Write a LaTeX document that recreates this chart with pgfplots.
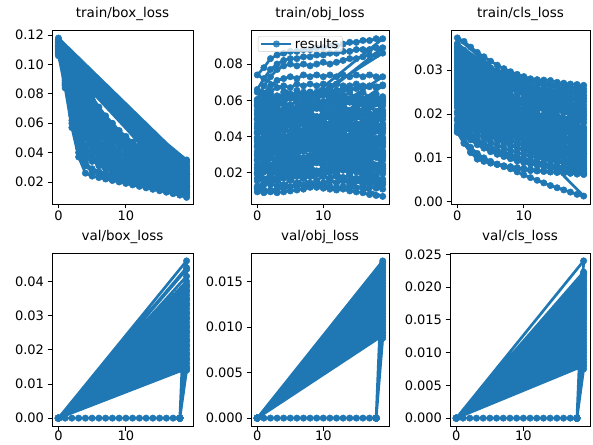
\documentclass[border=0pt]{standalone}
\usepackage{fontspec}
\setmainfont{DejaVu Sans}
\usepackage{pgfplots}
\pgfplotsset{compat=1.18}
\definecolor{tabblue}{HTML}{1F77B4}
\pgfplotsset{
  panel/.style={
    scale only axis, anchor=south west,
    xmin=-0.95, xmax=19.95, xtick={0,10},
    tick align=outside, tick pos=left, major tick length=4.5pt,
    every tick/.style={black, line width=0.8pt},
    axis line style={line width=0.8pt},
    tick label style={font=\fontsize{13}{15}\selectfont},
    xticklabel style={yshift=1.2pt},
    title style={font=\fontsize{13.5}{16}\selectfont, anchor=base, yshift=6.5pt, inner sep=0pt},
    /pgf/number format/assume math mode=true,
    scaled y ticks=false,
    yticklabel style={/pgf/number format/fixed, /pgf/number format/fixed zerofill, /pgf/number format/precision=2},
  },
  lowrow/.style={xticklabel style={yshift=1.6pt}},
  run/.style={tabblue, line width=2.7pt, line join=round, mark=*, mark size=3.2pt, mark options={solid, line width=0.5pt}},
}
\begin{document}
\begin{tikzpicture}
\path[use as bounding box] (0,0) rectangle (593pt,444pt);

% train/box_loss
\begin{axis}[panel, at={(52pt,240pt)}, width=141pt, height=174pt, title={train/box\_loss},
  ymin=0.005, ymax=0.1235, ytick={0.02,0.04,0.06,0.08,0.1,0.12}]
\addplot[run] coordinates {
(0,.107)(1,.084)(2,.057)(3,.037)(4,.026)(5,.024)(6,.023)(7,.022)(8,.021)(9,.020)(10,.019)(11,.018)(12,.017)(13,.016)(14,.015)(15,.014)(16,.013)(17,.012)(18,.011)(19,.0095)
(0,.109)(1,.088)(2,.065)(3,.046)(4,.033)(5,.029)(6,.027)(7,.026)(8,.025)(9,.024)(10,.023)(11,.022)(12,.021)(13,.020)(14,.019)(15,.018)(16,.017)(17,.016)(18,.015)(19,.012)
(0,.106)(1,.087)(2,.066)(3,.050)(4,.041)(5,.036)(6,.033)(7,.031)(8,.029)(9,.027)(10,.025)(11,.024)(12,.023)(13,.022)(14,.021)(15,.020)(16,.019)(17,.018)(18,.017)(19,.016)
(0,.108)(1,.086)(2,.060)(3,.040)(4,.036)(5,.034)(6,.032)(7,.030)(8,.028)(9,.026)(10,.025)(11,.024)(12,.022)(13,.021)(14,.020)(15,.019)(16,.018)(17,.017)(18,.016)(19,.015)
(0,.108)(1,.091)(2,.072)(3,.056)(4,.044)(5,.037)(6,.033)(7,.030)(8,.028)(9,.026)(10,.024)(11,.022)(12,.021)(13,.020)(14,.019)(15,.018)(16,.017)(17,.016)(18,.015)(19,.014)
(0,.110)(1,.090)(2,.068)(3,.050)(4,.040)(5,.035)(6,.031)(7,.029)(8,.027)(9,.025)(10,.024)(11,.023)(12,.022)(13,.021)(14,.020)(15,.019)(16,.018)(17,.017)(18,.016)(19,.013)
(0,.111)(1,.093)(2,.074)(3,.057)(4,.045)(5,.038)(6,.034)(7,.031)(8,.029)(9,.028)(10,.027)(11,.026)(12,.025)(13,.024)(14,.023)(15,.022)(16,.021)(17,.020)(18,.020)(19,.019)
(0,.110)(1,.097)(2,.083)(3,.070)(4,.059)(5,.050)(6,.043)(7,.038)(8,.034)(9,.031)(10,.029)(11,.027)(12,.025)(13,.024)(14,.023)(15,.022)(16,.021)(17,.020)(18,.019)(19,.017)
(0,.112)(1,.095)(2,.078)(3,.062)(4,.050)(5,.042)(6,.037)(7,.033)(8,.031)(9,.029)(10,.027)(11,.026)(12,.025)(13,.024)(14,.023)(15,.022)(16,.021)(17,.020)(18,.019)(19,.018)
(0,.112)(1,.098)(2,.084)(3,.071)(4,.060)(5,.051)(6,.044)(7,.039)(8,.035)(9,.032)(10,.030)(11,.028)(12,.026)(13,.025)(14,.024)(15,.023)(16,.022)(17,.021)(18,.021)(19,.022)
(0,.113)(1,.099)(2,.085)(3,.072)(4,.061)(5,.052)(6,.045)(7,.040)(8,.036)(9,.033)(10,.031)(11,.029)(12,.028)(13,.027)(14,.026)(15,.025)(16,.024)(17,.023)(18,.022)(19,.021)
(0,.113)(1,.101)(2,.089)(3,.077)(4,.066)(5,.057)(6,.049)(7,.043)(8,.039)(9,.035)(10,.032)(11,.030)(12,.028)(13,.026)(14,.025)(15,.024)(16,.023)(17,.022)(18,.021)(19,.020)
(0,.114)(1,.102)(2,.090)(3,.079)(4,.069)(5,.060)(6,.053)(7,.047)(8,.043)(9,.040)(10,.037)(11,.035)(12,.033)(13,.031)(14,.030)(15,.029)(16,.028)(17,.027)(18,.026)(19,.025)
(0,.115)(1,.104)(2,.093)(3,.083)(4,.073)(5,.064)(6,.056)(7,.050)(8,.045)(9,.041)(10,.038)(11,.036)(12,.034)(13,.032)(14,.031)(15,.030)(16,.029)(17,.028)(18,.027)(19,.026)
(0,.115)(1,.105)(2,.095)(3,.085)(4,.076)(5,.068)(6,.061)(7,.055)(8,.050)(9,.046)(10,.042)(11,.039)(12,.036)(13,.034)(14,.032)(15,.031)(16,.030)(17,.029)(18,.028)(19,.027)
(0,.116)(1,.106)(2,.096)(3,.087)(4,.078)(5,.070)(6,.063)(7,.057)(8,.052)(9,.048)(10,.044)(11,.041)(12,.038)(13,.036)(14,.034)(15,.032)(16,.031)(17,.030)(18,.029)(19,.028)
(0,.116)(1,.107)(2,.098)(3,.089)(4,.080)(5,.072)(6,.065)(7,.059)(8,.054)(9,.049)(10,.045)(11,.042)(12,.039)(13,.037)(14,.035)(15,.033)(16,.032)(17,.031)(18,.030)(19,.030)
(0,.117)(1,.108)(2,.099)(3,.090)(4,.082)(5,.074)(6,.067)(7,.061)(8,.056)(9,.052)(10,.048)(11,.045)(12,.042)(13,.040)(14,.038)(15,.036)(16,.034)(17,.033)(18,.032)(19,.031)
(0,.117)(1,.109)(2,.100)(3,.092)(4,.084)(5,.076)(6,.069)(7,.063)(8,.058)(9,.053)(10,.049)(11,.046)(12,.043)(13,.040)(14,.038)(15,.036)(16,.035)(17,.034)(18,.033)(19,.033)
(0,.118)(1,.110)(2,.101)(3,.093)(4,.085)(5,.078)(6,.071)(7,.065)(8,.060)(9,.055)(10,.051)(11,.047)(12,.044)(13,.041)(14,.039)(15,.037)(16,.036)(17,.035)(18,.035)(19,.035)
(0,.107)(1,.086)(2,.062)(3,.043)(4,.031)(5,.027)(6,.025)(7,.024)(8,.023)(9,.022)(10,.021)(11,.020)(12,.019)(13,.018)(14,.017)(15,.016)(16,.015)(17,.014)(18,.013)(19,.011)
(0,.109)(1,.092)(2,.076)(3,.062)(4,.051)(5,.043)(6,.037)(7,.033)(8,.030)(9,.028)(10,.026)(11,.024)(12,.022)(13,.020)(14,.018)(15,.017)(16,.016)(17,.015)(18,.014)(19,.013)
(0,.108)(1,.089)(2,.070)(3,.053)(4,.042)(5,.036)(6,.032)(7,.029)(8,.027)(9,.025)(10,.023)(11,.022)(12,.021)(13,.020)(14,.019)(15,.018)(16,.017)(17,.016)(18,.015)(19,.0145)
(0,.110)(1,.094)(2,.079)(3,.065)(4,.054)(5,.046)(6,.040)(7,.036)(8,.033)(9,.031)(10,.029)(11,.027)(12,.025)(13,.023)(14,.021)(15,.020)(16,.019)(17,.018)(18,.017)(19,.016)
(0,.113)(1,.098)(2,.081)(3,.066)(4,.053)(5,.044)(6,.038)(7,.034)(8,.031)(9,.029)(10,.027)(11,.025)(12,.024)(13,.023)(14,.022)(15,.021)(16,.020)(17,.019)(18,.018)(19,.017)
(0,.111)(1,.096)(2,.080)(3,.066)(4,.054)(5,.045)(6,.039)(7,.035)(8,.032)(9,.030)(10,.028)(11,.027)(12,.026)(13,.025)(14,.024)(15,.023)(16,.022)(17,.021)(18,.020)(19,.019)
(0,.112)(1,.097)(2,.082)(3,.068)(4,.057)(5,.049)(6,.043)(7,.039)(8,.036)(9,.033)(10,.031)(11,.029)(12,.027)(13,.026)(14,.025)(15,.024)(16,.023)(17,.022)(18,.021)(19,.020)
(0,.113)(1,.100)(2,.087)(3,.075)(4,.064)(5,.055)(6,.047)(7,.041)(8,.037)(9,.034)(10,.032)(11,.030)(12,.029)(13,.028)(14,.027)(15,.026)(16,.025)(17,.024)(18,.023)(19,.023)
(0,.114)(1,.103)(2,.092)(3,.081)(4,.071)(5,.062)(6,.055)(7,.049)(8,.044)(9,.040)(10,.037)(11,.034)(12,.032)(13,.030)(14,.029)(15,.028)(16,.027)(17,.026)(18,.025)(19,.024)
(0,.115)(1,.103)(2,.091)(3,.080)(4,.070)(5,.062)(6,.055)(7,.049)(8,.045)(9,.041)(10,.038)(11,.035)(12,.033)(13,.031)(14,.030)(15,.029)(16,.028)(17,.027)(18,.026)(19,.025)
(0,.116)(1,.106)(2,.097)(3,.088)(4,.079)(5,.071)(6,.064)(7,.058)(8,.053)(9,.049)(10,.045)(11,.042)(12,.040)(13,.038)(14,.036)(15,.034)(16,.033)(17,.032)(18,.031)(19,.029)
(0,.117)(1,.108)(2,.100)(3,.091)(4,.083)(5,.075)(6,.068)(7,.062)(8,.057)(9,.053)(10,.050)(11,.047)(12,.044)(13,.042)(14,.040)(15,.038)(16,.036)(17,.035)(18,.034)(19,.034)
(0,.110)(1,.095)(2,.081)(3,.068)(4,.057)(5,.048)(6,.042)(7,.037)(8,.034)(9,.031)(10,.029)(11,.027)(12,.025)(13,.024)(14,.023)(15,.022)(16,.021)(17,.020)(18,.019)(19,.018)
(0,.112)(1,.100)(2,.088)(3,.076)(4,.065)(5,.056)(6,.049)(7,.044)(8,.040)(9,.037)(10,.034)(11,.032)(12,.030)(13,.028)(14,.027)(15,.026)(16,.025)(17,.024)(18,.023)(19,.022)
(0,.111)(1,.098)(2,.085)(3,.073)(4,.063)(5,.054)(6,.047)(7,.042)(8,.038)(9,.035)(10,.032)(11,.030)(12,.028)(13,.027)(14,.026)(15,.025)(16,.024)(17,.023)(18,.022)(19,.021)
(0,.114)(1,.104)(2,.094)(3,.084)(4,.075)(5,.067)(6,.060)(7,.054)(8,.049)(9,.045)(10,.041)(11,.038)(12,.035)(13,.033)(14,.031)(15,.030)(16,.029)(17,.028)(18,.027)(19,.026)
(0,.115)(1,.105)(2,.096)(3,.087)(4,.079)(5,.071)(6,.064)(7,.058)(8,.053)(9,.048)(10,.044)(11,.041)(12,.038)(13,.036)(14,.034)(15,.033)(16,.032)(17,.031)(18,.030)(19,.029)
(0,.116)(1,.107)(2,.098)(3,.090)(4,.082)(5,.074)(6,.067)(7,.061)(8,.056)(9,.051)(10,.047)(11,.044)(12,.041)(13,.039)(14,.037)(15,.035)(16,.034)(17,.033)(18,.032)(19,.031)
};
\end{axis}

% train/obj_loss
\begin{axis}[panel, at={(251pt,240pt)}, width=138pt, height=174pt, title={train/obj\_loss},
  ymin=0.0028, ymax=0.0988, ytick={0.02,0.04,0.06,0.08},
  legend style={at={(0.05,0.965)}, anchor=north west, draw=black!20, fill=white, fill opacity=0.8,
    text opacity=1, rounded corners=2pt, font=\fontsize{13}{15}\selectfont, inner xsep=2pt, inner ysep=0pt},
  legend image code/.code={\draw[mark repeat=2,mark phase=2] plot coordinates {(0pt,0pt) (15pt,0pt) (30pt,0pt)};}]
\addplot[run] coordinates {
(0,.0095)(1,.009)(2,.0095)(3,.009)(4,.0095)(5,.010)(6,.0105)(7,.011)(8,.012)(9,.012)(10,.0115)(11,.011)(12,.0105)(13,.011)(14,.010)(15,.0095)(16,.009)(17,.008)(18,.0075)(19,.007)
(0,.035)(1,.036)(2,.037)(3,.035)(4,.036)(5,.035)(6,.037)(7,.036)(8,.037)(9,.036)(10,.037)(11,.038)(12,.037)(13,.038)(14,.037)(15,.038)(16,.037)(17,.036)(18,.037)(19,.036)
(0,.074)(1,.078)(2,.083)(3,.085)(4,.086)(5,.087)(6,.087)(7,.088)(8,.088)(9,.089)(10,.089)(11,.090)(12,.090)(13,.091)(14,.092)(15,.092)(16,.093)(17,.093)(18,.094)(19,.094)
(0,.038)(1,.039)(2,.039)(3,.040)(4,.040)(5,.041)(6,.041)(7,.042)(8,.042)(9,.042)(10,.043)(11,.043)(12,.043)(13,.044)(14,.044)(15,.044)(16,.045)(17,.045)(18,.045)(19,.046)
(0,.0155)(1,.0165)(2,.0165)(3,.0175)(4,.0175)(5,.0185)(6,.0185)(7,.0195)(8,.0195)(9,.0195)(10,.0205)(11,.0205)(12,.0205)(13,.0215)(14,.0215)(15,.0215)(16,.0225)(17,.0225)(18,.0225)(19,.0235)
(0,.050)(1,.051)(2,.052)(3,.050)(4,.051)(5,.050)(6,.052)(7,.051)(8,.052)(9,.051)(10,.052)(11,.053)(12,.052)(13,.053)(14,.052)(15,.053)(16,.052)(17,.051)(18,.052)(19,.051)
(0,.011)(1,.0105)(2,.0105)(3,.011)(4,.0115)(5,.012)(6,.0125)(7,.013)(8,.013)(9,.0135)(10,.013)(11,.0125)(12,.012)(13,.0125)(14,.012)(15,.0115)(16,.0115)(17,.012)(18,.0115)(19,.011)
(0,.057)(1,.059)(2,.060)(3,.061)(4,.062)(5,.061)(6,.063)(7,.062)(8,.063)(9,.064)(10,.063)(11,.062)(12,.063)(13,.062)(14,.061)(15,.062)(16,.061)(17,.060)(18,.061)(19,.060)
(0,.023)(1,.024)(2,.024)(3,.025)(4,.025)(5,.026)(6,.026)(7,.027)(8,.027)(9,.027)(10,.028)(11,.028)(12,.028)(13,.029)(14,.029)(15,.029)(16,.030)(17,.030)(18,.030)(19,.031)
(0,.060)(1,.068)(2,.073)(3,.077)(4,.079)(5,.080)(6,.079)(7,.080)(8,.079)(9,.080)(10,.081)(11,.080)(12,.081)(13,.082)(14,.083)(15,.083)(16,.084)(17,.085)(18,.085)(19,.086)
(0,.0425)(1,.0435)(2,.0445)(3,.0425)(4,.0435)(5,.0425)(6,.0445)(7,.0435)(8,.0445)(9,.0435)(10,.0445)(11,.0455)(12,.0445)(13,.0455)(14,.0445)(15,.0455)(16,.0445)(17,.0435)(18,.0445)(19,.0435)
(0,.0125)(1,.0135)(2,.0145)(3,.0125)(4,.0135)(5,.0125)(6,.0145)(7,.0135)(8,.0145)(9,.0135)(10,.0145)(11,.0155)(12,.0145)(13,.0155)(14,.0145)(15,.0155)(16,.0145)(17,.0135)(18,.0145)(19,.0135)
(0,.053)(1,.054)(2,.054)(3,.055)(4,.055)(5,.056)(6,.056)(7,.057)(8,.057)(9,.057)(10,.058)(11,.058)(12,.058)(13,.059)(14,.059)(15,.059)(16,.060)(17,.060)(18,.060)(19,.061)
(0,.027)(1,.029)(2,.030)(3,.031)(4,.032)(5,.031)(6,.033)(7,.032)(8,.033)(9,.034)(10,.033)(11,.032)(12,.033)(13,.032)(14,.031)(15,.032)(16,.031)(17,.030)(18,.031)(19,.030)
(0,.066)(1,.072)(2,.077)(3,.080)(4,.082)(5,.083)(6,.083)(7,.084)(8,.084)(9,.085)(10,.085)(11,.086)(12,.086)(13,.087)(14,.087)(15,.088)(16,.088)(17,.088)(18,.089)(19,.089)
(0,.0345)(1,.0365)(2,.0375)(3,.0385)(4,.0395)(5,.0385)(6,.0405)(7,.0395)(8,.0405)(9,.0415)(10,.0405)(11,.0395)(12,.0405)(13,.0395)(14,.0385)(15,.0395)(16,.0385)(17,.0375)(18,.0385)(19,.0375)
(0,.0455)(1,.0465)(2,.0465)(3,.0475)(4,.0475)(5,.0485)(6,.0485)(7,.0495)(8,.0495)(9,.0495)(10,.0505)(11,.0505)(12,.0505)(13,.0515)(14,.0515)(15,.0515)(16,.0525)(17,.0525)(18,.0525)(19,.0535)
(0,.020)(1,.021)(2,.022)(3,.020)(4,.021)(5,.020)(6,.022)(7,.021)(8,.022)(9,.021)(10,.022)(11,.023)(12,.022)(13,.023)(14,.022)(15,.023)(16,.022)(17,.021)(18,.022)(19,.021)
(0,.0605)(1,.0615)(2,.0615)(3,.0625)(4,.0625)(5,.0635)(6,.0635)(7,.0645)(8,.0645)(9,.0645)(10,.0655)(11,.0655)(12,.0655)(13,.0665)(14,.0665)(15,.0665)(16,.0675)(17,.0675)(18,.0675)(19,.0685)
(0,.058)(1,.064)(2,.068)(3,.071)(4,.072)(5,.073)(6,.072)(7,.074)(8,.073)(9,.074)(10,.073)(11,.074)(12,.073)(13,.074)(14,.073)(15,.074)(16,.073)(17,.074)(18,.073)(19,.073)
(0,.0275)(1,.0285)(2,.0295)(3,.0275)(4,.0285)(5,.0275)(6,.0295)(7,.0285)(8,.0295)(9,.0285)(10,.0295)(11,.0305)(12,.0295)(13,.0305)(14,.0295)(15,.0305)(16,.0295)(17,.0285)(18,.0295)(19,.0285)
(0,.042)(1,.044)(2,.045)(3,.046)(4,.047)(5,.046)(6,.048)(7,.047)(8,.048)(9,.049)(10,.048)(11,.047)(12,.048)(13,.047)(14,.046)(15,.047)(16,.046)(17,.045)(18,.046)(19,.045)
(0,.012)(1,.014)(2,.015)(3,.016)(4,.017)(5,.016)(6,.018)(7,.017)(8,.018)(9,.019)(10,.018)(11,.017)(12,.018)(13,.017)(14,.016)(15,.017)(16,.016)(17,.015)(18,.016)(19,.015)
(0,.0575)(1,.0585)(2,.0595)(3,.0575)(4,.0585)(5,.0575)(6,.0595)(7,.0585)(8,.0595)(9,.0585)(10,.0595)(11,.0605)(12,.0595)(13,.0605)(14,.0595)(15,.0605)(16,.0595)(17,.0585)(18,.0595)(19,.0585)
(0,.0305)(1,.0315)(2,.0315)(3,.0325)(4,.0325)(5,.0335)(6,.0335)(7,.0345)(8,.0345)(9,.0345)(10,.0355)(11,.0355)(12,.0355)(13,.0365)(14,.0365)(15,.0365)(16,.0375)(17,.0375)(18,.0375)(19,.0385)
(0,.057)(1,.062)(2,.065)(3,.067)(4,.068)(5,.067)(6,.069)(7,.068)(8,.069)(9,.068)(10,.069)(11,.068)(12,.069)(13,.068)(14,.068)(15,.069)(16,.068)(17,.068)(18,.067)(19,.068)
(0,.0195)(1,.0215)(2,.0225)(3,.0235)(4,.0245)(5,.0235)(6,.0255)(7,.0245)(8,.0255)(9,.0265)(10,.0255)(11,.0245)(12,.0255)(13,.0245)(14,.0235)(15,.0245)(16,.0235)(17,.0225)(18,.0235)(19,.0225)
(0,.0495)(1,.0515)(2,.0525)(3,.0535)(4,.0545)(5,.0535)(6,.0555)(7,.0545)(8,.0555)(9,.0565)(10,.0555)(11,.0545)(12,.0555)(13,.0545)(14,.0535)(15,.0545)(16,.0535)(17,.0525)(18,.0535)(19,.0525)
(0,.0115)(1,.0155)(2,.0135)(3,.0165)(4,.0125)(5,.0165)(6,.0135)(7,.0175)(8,.0125)(9,.0155)(10,.0125)(11,.0165)(12,.0145)(13,.0175)(14,.0135)(15,.0165)(16,.0125)(17,.0155)(18,.0135)(19,.0165)
(0,.0445)(1,.0415)(2,.0435)(3,.0405)(4,.0445)(5,.0415)(6,.0455)(7,.0425)(8,.0445)(9,.0405)(10,.0435)(11,.0405)(12,.0455)(13,.0415)(14,.0445)(15,.0405)(16,.0445)(17,.0415)(18,.0435)(19,.0395)
(0,.022)(1,.026)(2,.024)(3,.027)(4,.023)(5,.027)(6,.024)(7,.028)(8,.023)(9,.026)(10,.023)(11,.027)(12,.025)(13,.028)(14,.024)(15,.027)(16,.023)(17,.026)(18,.024)(19,.027)
(0,.0595)(1,.0565)(2,.0585)(3,.0555)(4,.0595)(5,.0565)(6,.0605)(7,.0575)(8,.0595)(9,.0555)(10,.0585)(11,.0555)(12,.0605)(13,.0565)(14,.0595)(15,.0555)(16,.0595)(17,.0565)(18,.0585)(19,.0545)
(0,.032)(1,.036)(2,.034)(3,.037)(4,.033)(5,.037)(6,.034)(7,.038)(8,.033)(9,.036)(10,.033)(11,.037)(12,.035)(13,.038)(14,.034)(15,.037)(16,.033)(17,.036)(18,.034)(19,.037)
(0,.0195)(1,.0165)(2,.0185)(3,.0155)(4,.0195)(5,.0165)(6,.0205)(7,.0175)(8,.0195)(9,.0155)(10,.0185)(11,.0155)(12,.0205)(13,.0165)(14,.0195)(15,.0155)(16,.0195)(17,.0165)(18,.0185)(19,.0145)
(0,.047)(1,.051)(2,.049)(3,.052)(4,.048)(5,.052)(6,.049)(7,.053)(8,.048)(9,.051)(10,.048)(11,.052)(12,.050)(13,.053)(14,.049)(15,.052)(16,.048)(17,.051)(18,.049)(19,.052)
(0,.027)(1,.031)(2,.029)(3,.032)(4,.028)(5,.032)(6,.029)(7,.033)(8,.028)(9,.031)(10,.028)(11,.032)(12,.030)(13,.033)(14,.029)(15,.032)(16,.028)(17,.031)(18,.029)(19,.032)
(0,.0645)(1,.0615)(2,.0635)(3,.0605)(4,.0645)(5,.0615)(6,.0655)(7,.0625)(8,.0645)(9,.0605)(10,.0635)(11,.0605)(12,.0655)(13,.0615)(14,.0645)(15,.0605)(16,.0645)(17,.0615)(18,.0635)(19,.0595)
(0,.017)(1,.021)(2,.019)(3,.022)(4,.018)(5,.022)(6,.019)(7,.023)(8,.018)(9,.021)(10,.018)(11,.022)(12,.020)(13,.023)(14,.019)(15,.022)(16,.018)(17,.021)(18,.019)(19,.022)
(0,.0395)(1,.0365)(2,.0385)(3,.0355)(4,.0395)(5,.0365)(6,.0405)(7,.0375)(8,.0395)(9,.0355)(10,.0385)(11,.0355)(12,.0405)(13,.0365)(14,.0395)(15,.0355)(16,.0395)(17,.0365)(18,.0385)(19,.0345)
(0,.0545)(1,.0515)(2,.0535)(3,.0505)(4,.0545)(5,.0515)(6,.0555)(7,.0525)(8,.0545)(9,.0505)(10,.0535)(11,.0505)(12,.0555)(13,.0515)(14,.0545)(15,.0505)(16,.0545)(17,.0515)(18,.0535)(19,.0495)
(0,.0295)(1,.0265)(2,.0285)(3,.0255)(4,.0295)(5,.0265)(6,.0305)(7,.0275)(8,.0295)(9,.0255)(10,.0285)(11,.0255)(12,.0305)(13,.0265)(14,.0295)(15,.0255)(16,.0295)(17,.0265)(18,.0285)(19,.0245)
(0,.042)(1,.046)(2,.044)(3,.047)(4,.043)(5,.047)(6,.044)(7,.048)(8,.043)(9,.046)(10,.043)(11,.047)(12,.045)(13,.048)(14,.044)(15,.047)(16,.043)(17,.046)(18,.044)(19,.047)
(0,.0245)(1,.0215)(2,.0235)(3,.0205)(4,.0245)(5,.0215)(6,.0255)(7,.0225)(8,.0245)(9,.0205)(10,.0235)(11,.0205)(12,.0255)(13,.0215)(14,.0245)(15,.0205)(16,.0245)(17,.0215)(18,.0235)(19,.0195)
(0,.057)(1,.061)(2,.059)(3,.062)(4,.058)(5,.062)(6,.059)(7,.063)(8,.058)(9,.061)(10,.058)(11,.062)(12,.060)(13,.063)(14,.059)(15,.062)(16,.058)(17,.061)(18,.059)(19,.062)
(0,.0345)(1,.0315)(2,.0335)(3,.0305)(4,.0345)(5,.0315)(6,.0355)(7,.0325)(8,.0345)(9,.0305)(10,.0335)(11,.0305)(12,.0355)(13,.0315)(14,.0345)(15,.0305)(16,.0345)(17,.0315)(18,.0335)(19,.0295)
(0,.037)(1,.041)(2,.039)(3,.042)(4,.038)(5,.042)(6,.039)(7,.043)(8,.038)(9,.041)(10,.038)(11,.042)(12,.040)(13,.043)(14,.039)(15,.042)(16,.038)(17,.041)(18,.039)(19,.042)
(0,.0495)(1,.0465)(2,.0485)(3,.0455)(4,.0495)(5,.0465)(6,.0505)(7,.0475)(8,.0495)(9,.0455)(10,.0485)(11,.0455)(12,.0505)(13,.0465)(14,.0495)(15,.0455)(16,.0495)(17,.0465)(18,.0485)(19,.0445)
(0,.052)(1,.056)(2,.054)(3,.057)(4,.053)(5,.057)(6,.054)(7,.058)(8,.053)(9,.056)(10,.053)(11,.057)(12,.055)(13,.058)(14,.054)(15,.057)(16,.053)(17,.056)(18,.054)(19,.057)
};
\addlegendentry{results}
\end{axis}

% train/cls_loss
\begin{axis}[panel, at={(451pt,240pt)}, width=139pt, height=174pt, title={train/cls\_loss},
  ymin=-0.0005, ymax=0.0391, ytick={0,0.01,0.02,0.03}]
\addplot[run] coordinates {
(0,.0160)(1,.0135)(2,.0113)(3,.0097)(4,.0092)(5,.0088)(6,.0085)(7,.0082)(8,.0080)(9,.0078)(10,.0076)(11,.0074)(12,.0072)(13,.0070)(14,.0068)(15,.0067)(16,.0066)(17,.0065)(18,.0063)(19,.0062)
(0,.0325)(1,.0307)(2,.0291)(3,.0279)(4,.0270)(5,.0261)(6,.0254)(7,.0248)(8,.0242)(9,.0237)(10,.0233)(11,.0229)(12,.0225)(13,.0222)(14,.0218)(15,.0216)(16,.0213)(17,.0210)(18,.0207)(19,.0205)
(0,.0255)(1,.0236)(2,.0220)(3,.0208)(4,.0198)(5,.0189)(6,.0181)(7,.0175)(8,.0169)(9,.0164)(10,.0159)(11,.0155)(12,.0151)(13,.0148)(14,.0144)(15,.0141)(16,.0139)(17,.0135)(18,.0133)(19,.0130)
(0,.0373)(1,.0365)(2,.0352)(3,.0340)(4,.0330)(5,.0320)(6,.0311)(7,.0303)(8,.0296)(9,.0290)(10,.0285)(11,.0280)(12,.0278)(13,.0277)(14,.0276)(15,.0272)(16,.0270)(17,.0268)(18,.0267)(19,.0265)
(0,.0200)(1,.0182)(2,.0166)(3,.0154)(4,.0145)(5,.0136)(6,.0129)(7,.0123)(8,.0117)(9,.0112)(10,.0108)(11,.0104)(12,.0100)(13,.0097)(14,.0093)(15,.0091)(16,.0088)(17,.0085)(18,.0082)(19,.0080)
(0,.0285)(1,.0266)(2,.0250)(3,.0238)(4,.0228)(5,.0219)(6,.0211)(7,.0205)(8,.0199)(9,.0194)(10,.0189)(11,.0185)(12,.0181)(13,.0178)(14,.0174)(15,.0171)(16,.0169)(17,.0165)(18,.0163)(19,.0160)
(0,.0345)(1,.0329)(2,.0314)(3,.0303)(4,.0294)(5,.0287)(6,.0280)(7,.0275)(8,.0269)(9,.0265)(10,.0260)(11,.0257)(12,.0254)(13,.0250)(14,.0247)(15,.0245)(16,.0243)(17,.0239)(18,.0237)(19,.0235)
(0,.0235)(1,.0216)(2,.0200)(3,.0188)(4,.0178)(5,.0169)(6,.0161)(7,.0155)(8,.0149)(9,.0144)(10,.0139)(11,.0135)(12,.0131)(13,.0128)(14,.0124)(15,.0121)(16,.0119)(17,.0115)(18,.0113)(19,.0110)
(0,.0158)(1,.0133)(2,.0112)(3,.0100)(4,.0094)(5,.0089)(6,.0085)(7,.0080)(8,.0075)(9,.0068)(10,.0061)(11,.0055)(12,.0049)(13,.0043)(14,.0037)(15,.0032)(16,.0027)(17,.0022)(18,.0017)(19,.0013)
(0,.0305)(1,.0286)(2,.0270)(3,.0258)(4,.0248)(5,.0239)(6,.0231)(7,.0225)(8,.0219)(9,.0214)(10,.0209)(11,.0205)(12,.0201)(13,.0198)(14,.0194)(15,.0191)(16,.0189)(17,.0185)(18,.0183)(19,.0180)
(0,.0265)(1,.0246)(2,.0230)(3,.0218)(4,.0208)(5,.0199)(6,.0191)(7,.0185)(8,.0179)(9,.0174)(10,.0169)(11,.0165)(12,.0161)(13,.0158)(14,.0154)(15,.0151)(16,.0149)(17,.0145)(18,.0143)(19,.0140)
(0,.0355)(1,.0339)(2,.0326)(3,.0315)(4,.0307)(5,.0299)(6,.0293)(7,.0288)(8,.0283)(9,.0278)(10,.0274)(11,.0271)(12,.0268)(13,.0265)(14,.0262)(15,.0259)(16,.0257)(17,.0254)(18,.0252)(19,.0250)
(0,.0215)(1,.0196)(2,.0180)(3,.0168)(4,.0158)(5,.0149)(6,.0141)(7,.0135)(8,.0129)(9,.0124)(10,.0119)(11,.0115)(12,.0111)(13,.0108)(14,.0104)(15,.0101)(16,.0099)(17,.0095)(18,.0093)(19,.0090)
(0,.0295)(1,.0276)(2,.0260)(3,.0248)(4,.0238)(5,.0229)(6,.0221)(7,.0215)(8,.0209)(9,.0204)(10,.0199)(11,.0195)(12,.0191)(13,.0188)(14,.0184)(15,.0181)(16,.0179)(17,.0175)(18,.0173)(19,.0170)
(0,.0300)(1,.0272)(2,.0247)(3,.0228)(4,.0213)(5,.0199)(6,.0188)(7,.0178)(8,.0169)(9,.0161)(10,.0154)(11,.0148)(12,.0142)(13,.0137)(14,.0131)(15,.0127)(16,.0123)(17,.0118)(18,.0114)(19,.0110)
(0,.0335)(1,.0318)(2,.0303)(3,.0291)(4,.0282)(5,.0274)(6,.0267)(7,.0261)(8,.0256)(9,.0251)(10,.0246)(11,.0243)(12,.0240)(13,.0236)(14,.0233)(15,.0230)(16,.0228)(17,.0225)(18,.0222)(19,.0220)
(0,.0245)(1,.0226)(2,.0210)(3,.0198)(4,.0188)(5,.0179)(6,.0171)(7,.0165)(8,.0159)(9,.0154)(10,.0149)(11,.0145)(12,.0141)(13,.0138)(14,.0134)(15,.0131)(16,.0129)(17,.0125)(18,.0123)(19,.0120)
(0,.0170)(1,.0154)(2,.0141)(3,.0130)(4,.0122)(5,.0114)(6,.0108)(7,.0103)(8,.0098)(9,.0093)(10,.0089)(11,.0086)(12,.0083)(13,.0080)(14,.0077)(15,.0074)(16,.0072)(17,.0069)(18,.0067)(19,.0065)
(0,.0315)(1,.0297)(2,.0281)(3,.0269)(4,.0260)(5,.0251)(6,.0244)(7,.0238)(8,.0232)(9,.0227)(10,.0223)(11,.0219)(12,.0215)(13,.0212)(14,.0208)(15,.0206)(16,.0203)(17,.0200)(18,.0197)(19,.0195)
(0,.0275)(1,.0256)(2,.0240)(3,.0228)(4,.0218)(5,.0209)(6,.0201)(7,.0195)(8,.0189)(9,.0184)(10,.0179)(11,.0175)(12,.0171)(13,.0168)(14,.0164)(15,.0161)(16,.0159)(17,.0155)(18,.0153)(19,.0150)
(0,.0225)(1,.0206)(2,.0190)(3,.0178)(4,.0168)(5,.0159)(6,.0151)(7,.0145)(8,.0139)(9,.0134)(10,.0129)(11,.0125)(12,.0121)(13,.0118)(14,.0114)(15,.0111)(16,.0109)(17,.0105)(18,.0103)(19,.0100)
(0,.0185)(1,.0168)(2,.0153)(3,.0142)(4,.0133)(5,.0125)(6,.0118)(7,.0113)(8,.0107)(9,.0103)(10,.0098)(11,.0095)(12,.0091)(13,.0088)(14,.0084)(15,.0082)(16,.0080)(17,.0077)(18,.0074)(19,.0072)
(0,.0270)(1,.0260)(2,.0250)(3,.0241)(4,.0233)(5,.0224)(6,.0216)(7,.0209)(8,.0203)(9,.0196)(10,.0190)(11,.0185)(12,.0180)(13,.0175)(14,.0170)(15,.0165)(16,.0160)(17,.0155)(18,.0150)(19,.0145)
(0,.0360)(1,.0345)(2,.0331)(3,.0321)(4,.0313)(5,.0305)(6,.0299)(7,.0294)(8,.0289)(9,.0285)(10,.0281)(11,.0278)(12,.0275)(13,.0271)(14,.0268)(15,.0266)(16,.0264)(17,.0261)(18,.0259)(19,.0257)
(0,.0205)(1,.0195)(2,.0186)(3,.0177)(4,.0169)(5,.0161)(6,.0153)(7,.0146)(8,.0140)(9,.0134)(10,.0128)(11,.0123)(12,.0119)(13,.0114)(14,.0109)(15,.0104)(16,.0099)(17,.0095)(18,.0090)(19,.0085)
(0,.0320)(1,.0310)(2,.0301)(3,.0292)(4,.0284)(5,.0276)(6,.0268)(7,.0261)(8,.0255)(9,.0249)(10,.0243)(11,.0238)(12,.0234)(13,.0229)(14,.0224)(15,.0219)(16,.0214)(17,.0210)(18,.0205)(19,.0200)
(0,.0240)(1,.0230)(2,.0220)(3,.0211)(4,.0203)(5,.0194)(6,.0186)(7,.0179)(8,.0173)(9,.0166)(10,.0160)(11,.0155)(12,.0150)(13,.0145)(14,.0140)(15,.0135)(16,.0130)(17,.0125)(18,.0120)(19,.0115)
(0,.0340)(1,.0323)(2,.0309)(3,.0297)(4,.0288)(5,.0281)(6,.0274)(7,.0268)(8,.0263)(9,.0258)(10,.0254)(11,.0250)(12,.0247)(13,.0244)(14,.0240)(15,.0238)(16,.0236)(17,.0232)(18,.0230)(19,.0228)
(0,.0175)(1,.0159)(2,.0145)(3,.0134)(4,.0126)(5,.0118)(6,.0112)(7,.0107)(8,.0101)(9,.0097)(10,.0093)(11,.0089)(12,.0086)(13,.0083)(14,.0080)(15,.0078)(16,.0075)(17,.0072)(18,.0070)(19,.0068)
(0,.0290)(1,.0280)(2,.0270)(3,.0261)(4,.0253)(5,.0244)(6,.0236)(7,.0229)(8,.0223)(9,.0216)(10,.0210)(11,.0205)(12,.0200)(13,.0195)(14,.0190)(15,.0185)(16,.0180)(17,.0175)(18,.0170)(19,.0165)
(0,.0230)(1,.0220)(2,.0210)(3,.0201)(4,.0193)(5,.0184)(6,.0176)(7,.0169)(8,.0163)(9,.0156)(10,.0150)(11,.0145)(12,.0140)(13,.0135)(14,.0130)(15,.0125)(16,.0120)(17,.0115)(18,.0110)(19,.0105)
(0,.0350)(1,.0334)(2,.0320)(3,.0309)(4,.0300)(5,.0293)(6,.0286)(7,.0281)(8,.0275)(9,.0271)(10,.0267)(11,.0264)(12,.0260)(13,.0257)(14,.0254)(15,.0252)(16,.0250)(17,.0246)(18,.0244)(19,.0242)
(0,.0165)(1,.0142)(2,.0124)(3,.0110)(4,.0100)(5,.0092)(6,.0086)(7,.0081)(8,.0078)(9,.0075)(10,.0073)(11,.0071)(12,.0070)(13,.0069)(14,.0068)(15,.0067)(16,.0066)(17,.0065)(18,.0065)(19,.0064)
(0,.0260)(1,.0250)(2,.0240)(3,.0231)(4,.0223)(5,.0214)(6,.0206)(7,.0199)(8,.0193)(9,.0186)(10,.0180)(11,.0175)(12,.0170)(13,.0165)(14,.0160)(15,.0155)(16,.0150)(17,.0145)(18,.0140)(19,.0135)
(0,.0310)(1,.0300)(2,.0290)(3,.0282)(4,.0273)(5,.0265)(6,.0258)(7,.0250)(8,.0244)(9,.0238)(10,.0232)(11,.0227)(12,.0222)(13,.0217)(14,.0212)(15,.0208)(16,.0203)(17,.0198)(18,.0193)(19,.0188)
(0,.0220)(1,.0210)(2,.0200)(3,.0191)(4,.0183)(5,.0174)(6,.0166)(7,.0159)(8,.0153)(9,.0146)(10,.0140)(11,.0135)(12,.0130)(13,.0125)(14,.0120)(15,.0115)(16,.0110)(17,.0105)(18,.0100)(19,.0095)
(0,.0330)(1,.0321)(2,.0311)(3,.0303)(4,.0295)(5,.0286)(6,.0279)(7,.0272)(8,.0266)(9,.0260)(10,.0254)(11,.0250)(12,.0245)(13,.0240)(14,.0236)(15,.0231)(16,.0226)(17,.0221)(18,.0217)(19,.0212)
(0,.0250)(1,.0240)(2,.0230)(3,.0221)(4,.0213)(5,.0204)(6,.0196)(7,.0189)(8,.0183)(9,.0176)(10,.0170)(11,.0165)(12,.0160)(13,.0155)(14,.0150)(15,.0145)(16,.0140)(17,.0135)(18,.0130)(19,.0125)
(0,.0280)(1,.0270)(2,.0260)(3,.0251)(4,.0243)(5,.0234)(6,.0226)(7,.0219)(8,.0213)(9,.0206)(10,.0200)(11,.0195)(12,.0190)(13,.0185)(14,.0180)(15,.0175)(16,.0170)(17,.0165)(18,.0160)(19,.0155)
(0,.0190)(1,.0181)(2,.0172)(3,.0164)(4,.0156)(5,.0148)(6,.0141)(7,.0134)(8,.0128)(9,.0123)(10,.0117)(11,.0112)(12,.0108)(13,.0103)(14,.0099)(15,.0094)(16,.0090)(17,.0085)(18,.0081)(19,.0076)
};
\end{axis}

% val/box_loss
\begin{axis}[panel, lowrow, at={(52pt,18pt)}, width=141pt, height=173pt, title={val/box\_loss},
  ymin=-0.0023, ymax=0.0483, ytick={0,0.01,0.02,0.03,0.04}]
\addplot[run] coordinates {
(0,0)(1,0)(2,0)(3,0)(4,0)(5,0)(6,0)(7,0)(8,0)(9,0)(10,0)(11,0)(12,0)(13,0)(14,0)(15,0)(16,0)(17,0)(18,0)(19,.046)
(0,0)(18,0)(19,.044) (0,0)(18,0)(19,.0435) (0,0)(18,0)(19,.0415) (0,0)(18,0)(19,.040)
(0,0)(18,0)(19,.039) (0,0)(18,0)(19,.0385) (0,0)(18,0)(19,.0375) (0,0)(18,0)(19,.037)
(0,0)(18,0)(19,.036) (0,0)(18,0)(19,.035) (0,0)(18,0)(19,.0345) (0,0)(18,0)(19,.0335)
(0,0)(18,0)(19,.033) (0,0)(18,0)(19,.032) (0,0)(18,0)(19,.031) (0,0)(18,0)(19,.0305)
(0,0)(18,0)(19,.0295) (0,0)(18,0)(19,.029) (0,0)(18,0)(19,.028) (0,0)(18,0)(19,.027)
(0,0)(18,0)(19,.0265) (0,0)(18,0)(19,.0255) (0,0)(18,0)(19,.025) (0,0)(18,0)(19,.024)
(0,0)(18,0)(19,.023) (0,0)(18,0)(19,.0225) (0,0)(18,0)(19,.0215) (0,0)(18,0)(19,.021)
(0,0)(18,0)(19,.020) (0,0)(18,0)(19,.019) (0,0)(18,0)(19,.0185) (0,0)(18,0)(19,.0175)
(0,0)(18,0)(19,.017) (0,0)(18,0)(19,.016) (0,0)(18,0)(19,.015) (0,0)(18,0)(19,.0145)
(0,0)(18,0)(19,.014)
};
\end{axis}

% val/obj_loss
\begin{axis}[panel, lowrow, at={(251pt,18pt)}, width=138pt, height=173pt, title={val/obj\_loss},
  ymin=-0.00087, ymax=0.01817, ytick={0,0.005,0.01,0.015},
  yticklabel style={/pgf/number format/precision=3}]
\addplot[run] coordinates {
(0,0)(1,0)(2,0)(3,0)(4,0)(5,0)(6,0)(7,0)(8,0)(9,0)(10,0)(11,0)(12,0)(13,0)(14,0)(15,0)(16,0)(17,0)(18,0)(19,.0173)
(0,0)(18,0)(19,.0171) (0,0)(18,0)(19,.0168) (0,0)(18,0)(19,.0165) (0,0)(18,0)(19,.0162)
(0,0)(18,0)(19,.0160) (0,0)(18,0)(19,.0157) (0,0)(18,0)(19,.0154) (0,0)(18,0)(19,.0151)
(0,0)(18,0)(19,.0148) (0,0)(18,0)(19,.0145) (0,0)(18,0)(19,.0142) (0,0)(18,0)(19,.0139)
(0,0)(18,0)(19,.0136) (0,0)(18,0)(19,.0133) (0,0)(18,0)(19,.0130) (0,0)(18,0)(19,.0127)
(0,0)(18,0)(19,.0124) (0,0)(18,0)(19,.0121) (0,0)(18,0)(19,.0118) (0,0)(18,0)(19,.0115)
(0,0)(18,0)(19,.0112) (0,0)(18,0)(19,.0109) (0,0)(18,0)(19,.0106) (0,0)(18,0)(19,.0103)
(0,0)(18,0)(19,.0100) (0,0)(18,0)(19,.0097) (0,0)(18,0)(19,.0094) (0,0)(18,0)(19,.0091)
(0,0)(18,0)(19,.0088)
};
\end{axis}

% val/cls_loss
\begin{axis}[panel, lowrow, at={(450pt,18pt)}, width=140pt, height=173pt, title={val/cls\_loss},
  ymin=-0.0012, ymax=0.0252, ytick={0,0.005,0.01,0.015,0.02,0.025},
  yticklabel style={/pgf/number format/precision=3}]
\addplot[run] coordinates {
(0,0)(1,0)(2,0)(3,0)(4,0)(5,0)(6,0)(7,0)(8,0)(9,0)(10,0)(11,0)(12,0)(13,0)(14,0)(15,0)(16,0)(17,0)(18,0)(19,.0240)
(0,0)(18,0)(19,.0223) (0,0)(18,0)(19,.0221) (0,0)(18,0)(19,.0218) (0,0)(18,0)(19,.0214)
(0,0)(18,0)(19,.0210) (0,0)(18,0)(19,.0206) (0,0)(18,0)(19,.0202) (0,0)(18,0)(19,.0198)
(0,0)(18,0)(19,.0194) (0,0)(18,0)(19,.0190) (0,0)(18,0)(19,.0186) (0,0)(18,0)(19,.0182)
(0,0)(18,0)(19,.0178) (0,0)(18,0)(19,.0174) (0,0)(18,0)(19,.0170) (0,0)(18,0)(19,.0166)
(0,0)(18,0)(19,.0162) (0,0)(18,0)(19,.0158) (0,0)(18,0)(19,.0154) (0,0)(18,0)(19,.0150)
(0,0)(18,0)(19,.0145) (0,0)(18,0)(19,.0140) (0,0)(18,0)(19,.0135) (0,0)(18,0)(19,.0130)
(0,0)(18,0)(19,.0125) (0,0)(18,0)(19,.0120) (0,0)(18,0)(19,.0115) (0,0)(18,0)(19,.0110)
(0,0)(18,0)(19,.0105) (0,0)(18,0)(19,.0100) (0,0)(18,0)(19,.0095) (0,0)(18,0)(19,.0090)
(0,0)(18,0)(19,.0085) (0,0)(18,0)(19,.0080) (0,0)(18,0)(19,.0075)
};
\end{axis}
\end{tikzpicture}
\end{document}
